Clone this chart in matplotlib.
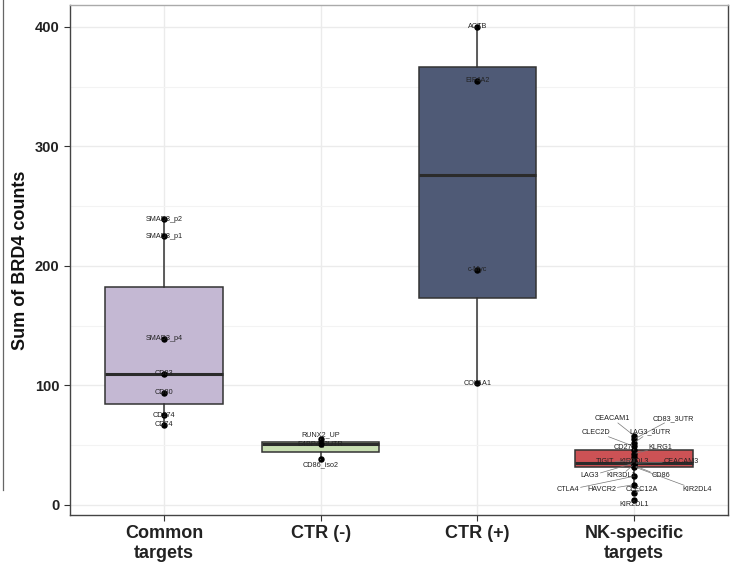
import numpy as np
import matplotlib.pyplot as plt
from matplotlib.lines import Line2D

plt.rcParams['font.family'] = ['Liberation Sans', 'DejaVu Sans']

# groups and their per-gene BRD4 count sums
groups = ["Common\ntargets", "CTR (-)", "CTR (+)", "NK-specific\ntargets"]
colors = ["#C4B8D3", "#C8DEB2", "#4F5A76", "#CC5255"]

common_genes = ["SMAD3_p2", "SMAD3_p1", "SMAD3_p4", "CD83", "CD80", "CD274", "CD74"]
common_vals = [239, 225, 139, 110, 94, 75, 67]

neg_genes = ["RUNX2_UP", "E4BP4_3UTR", "CD86_iso2"]
neg_vals = [55, 50.8, 38.2]

pos_genes = ["ACTB", "EIF4A2", "c-Myc", "COL1A1"]
pos_vals = [400, 355, 197, 102]

nk_genes = ["CEACAM1", "CD83_3UTR", "LAG3_3UTR", "CLEC2D", "CD27", "KLRG1",
            "KIR2DL3", "TIGIT", "CEACAM3", "LAG3", "KIR3DL1", "CD86",
            "KIR2DL4", "CTLA4", "HAVCR2", "CLEC12A", "KIR2DL1"]
nk_vals = [58, 55, 52, 49, 46, 43, 40, 37, 35, 35, 34, 33, 32, 24, 17, 10, 4]

all_genes = [common_genes, neg_genes, pos_genes, nk_genes]
all_vals = [common_vals, neg_vals, pos_vals, nk_vals]

# repelled label placement (x shift in category units, label y in data units)
repel = {
    "CEACAM1": (-0.14, 72.5), "CD83_3UTR": (0.25, 72.5),
    "CLEC2D": (-0.24, 61), "LAG3_3UTR": (0.10, 61),
    "CD27": (-0.07, 48.4), "KLRG1": (0.17, 48.4),
    "TIGIT": (-0.185, 36.2), "KIR2DL3": (0.0, 36.2), "CEACAM3": (0.30, 36.2),
    "LAG3": (-0.28, 24.3), "KIR3DL1": (-0.085, 24.3), "CD86": (0.17, 24.3),
    "CTLA4": (-0.42, 12.6), "HAVCR2": (-0.205, 12.6),
    "CLEC12A": (0.05, 12.6), "KIR2DL4": (0.40, 12.6),
    "KIR2DL1": (0.0, 0.0),
    "RUNX2_UP": (0.0, 59), "CD86_iso2": (0.0, 34),
}

fig = plt.figure(figsize=(7.36, 5.66), dpi=100)
ax = fig.add_axes([0.0951, 0.0901, 0.894, 0.9011])

pos = np.arange(1, len(groups) + 1)
bp = ax.boxplot(all_vals, positions=pos, widths=0.75, patch_artist=True,
                showcaps=False, showfliers=False, whis=1.5, zorder=2,
                medianprops=dict(color="#2b2b2b", lw=2.2),
                whiskerprops=dict(color="#333333", lw=1.1),
                boxprops=dict(edgecolor="#333333", lw=1.1))
for patch, c in zip(bp["boxes"], colors):
    patch.set_facecolor(c)

for x, genes, vals in zip(pos, all_genes, all_vals):
    ax.scatter([x] * len(vals), vals, s=13, color="black", zorder=3)
    for g, v in zip(genes, vals):
        if g in repel:
            dx, ly = repel[g]
            ax.annotate(g, xy=(x, v), xytext=(x + dx, ly), fontsize=5.2,
                        ha="center", va="center", color="#222222", zorder=4,
                        bbox=dict(boxstyle="square,pad=0.15", fc="none", ec="none"),
                        arrowprops=dict(arrowstyle="-", color="#777777", lw=0.5,
                                        shrinkA=0, shrinkB=1.5))
        else:
            ax.text(x, v, g, fontsize=5.2, ha="center", va="center",
                    color="#222222", zorder=4)

ax.set_xlim(0.4, 4.6)
ax.set_ylim(-8.4, 418.4)
ax.set_xticks(pos)
ax.set_xticklabels(groups, fontsize=13, fontweight="bold", color="#222222")
ax.set_yticks([0, 100, 200, 300, 400])
ax.set_yticks([50, 150, 250, 350], minor=True)
ax.tick_params(axis="y", which="minor", length=0)
ax.tick_params(axis="both", which="major", length=4, color="#333333",
               width=0.8)
for lbl in ax.get_yticklabels():
    lbl.set_fontsize(10.5)
    lbl.set_fontweight("bold")
    lbl.set_color("#222222")
ax.set_ylabel("Sum of BRD4 counts", fontsize=13, fontweight="bold",
              color="#111111", labelpad=4)

ax.grid(True, which="major", color="#EBEBEB", lw=1.0, zorder=0)
ax.grid(True, which="minor", axis="y", color="#F3F3F3", lw=0.8, zorder=0)
ax.set_axisbelow(True)
for side, sp in ax.spines.items():
    sp.set_color("#444444")
    sp.set_linewidth(1.0)
ax.spines["top"].set_color("#aaaaaa")

# thin border remnant at the far left edge
fig.add_artist(Line2D([0.004, 0.004], [1.0, 0.135], transform=fig.transFigure,
                      color="#666666", lw=0.9))

fig.savefig("out.png", dpi=100)
